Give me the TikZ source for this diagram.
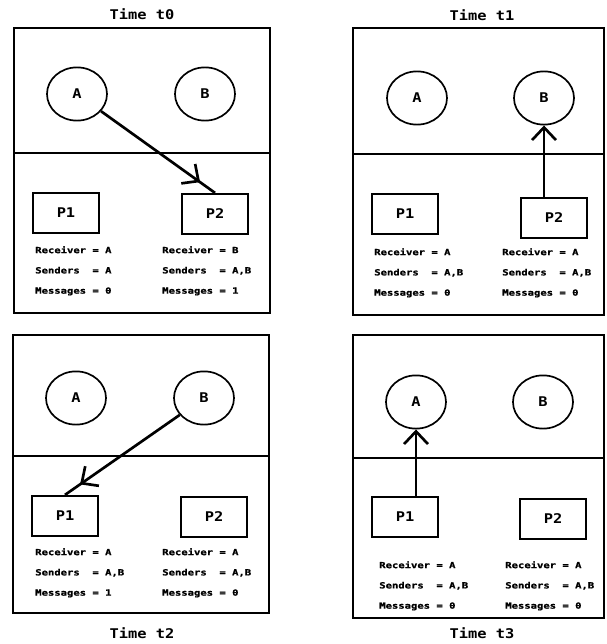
\documentclass[tikz,border=0pt]{standalone}
\usepackage{fontspec}
\usepackage{tikz}
\usetikzlibrary{shapes.geometric, arrows.meta, decorations.markings}

\newfontfamily\monofont[FakeStretch=1.15]{DejaVu Sans Mono}
\newfontfamily\widemono[FakeStretch=1.25, FakeBold=1.2]{DejaVu Sans Mono}
\newcommand{\namefont}{\monofont\bfseries\fontsize{9.5}{11}\selectfont}
\newcommand{\infofont}{\widemono\bfseries\fontsize{6}{14.4}\selectfont}

\begin{document}
\begin{tikzpicture}[
            x=0.025cm, y=-0.025cm,
            proc/.style={ellipse, draw, line width=1.2pt, minimum width=1.5cm, minimum height=1.33cm, font=\namefont},
            queue/.style={rectangle, draw, line width=1.6pt, minimum width=1.65cm, minimum height=1cm, font=\namefont},
            info/.style={anchor=north west, align=left, inner sep=0pt, font=\infofont},
            title/.style={font=\namefont},
            frame/.style={line width=1.4pt},
            split/.style={line width=1.1pt},
            msg/.style={line width=1.9pt, -{Straight Barb[length=9pt, width=17pt]}},
            sendmsg/.style={line width=1.9pt, postaction={decorate},
                decoration={markings, mark=at position 0.87 with {\arrow{Straight Barb[length=9pt, width=17pt]}}}}
        ]
        \useasboundingbox (0,0) rectangle (606,644);

        % Time t0
        \node[title] (title_t0) at (142,14) {Time t0};
        \draw[frame] (14,28) rectangle (270,313);
        \draw[split] (14,153) -- (270,153);
        \node[proc] (a_t0) at (77,94) {A};
        \node[proc] (b_t0) at (205,94) {B};
        \node[queue] (p1_t0) at (66,213) {P1};
        \node[queue] (p2_t0) at (215,214) {P2};
        \node[info] (p1_t0_info) at (35,246) {Receiver = A\\Senders\ \ = A\\Messages = 0};
        \node[info] (p2_t0_info) at (162,246) {Receiver = B\\Senders\ \ = A,B\\Messages = 1};
        \draw[sendmsg] (a_t0) -- (p2_t0.north);

        % Time t1
        \node[title] (title_t1) at (482,15) {Time t1};
        \draw[frame] (353,28) rectangle (604,315);
        \draw[split] (353,154) -- (604,154);
        \node[proc] (a_t1) at (417,98) {A};
        \node[proc] (b_t1) at (544,98) {B};
        \node[queue] (p1_t1) at (405,214) {P1};
        \node[queue] (p2_t1) at (554,218) {P2};
        \node[info] (p1_t1_info) at (374,248) {Receiver = A\\Senders\ \ = A,B\\Messages = 0};
        \node[info] (p2_t1_info) at (502,248) {Receiver = A\\Senders\ \ = A,B\\Messages = 0};
        \draw[msg] (p2_t1.north -| b_t1) -- (b_t1.south);

        % Time t2
        \draw[frame] (13,335) rectangle (269,613);
        \draw[split] (13,456) -- (269,456);
        \node[proc] (a_t2) at (76,398) {A};
        \node[proc] (b_t2) at (204,398) {B};
        \node[queue] (p1_t2) at (65,516) {P1};
        \node[queue] (p2_t2) at (214,517) {P2};
        \node[info] (p1_t2_info) at (35,548) {Receiver = A\\Senders\ \ = A,B\\Messages = 1};
        \node[info] (p2_t2_info) at (162,548) {Receiver = A\\Senders\ \ = A,B\\Messages = 0};
        \draw[sendmsg] (b_t2) -- (p1_t2.north);
        \node[title] (title_t2) at (142,633) {Time t2};

        % Time t3
        \draw[frame] (353,335) rectangle (604,618);
        \draw[split] (353,458) -- (604,458);
        \node[proc] (a_t3) at (416,402) {A};
        \node[proc] (b_t3) at (543,402) {B};
        \node[queue] (p1_t3) at (405,517) {P1};
        \node[queue] (p2_t3) at (553,519) {P2};
        \node[info] (p1_t3_info) at (379,561) {Receiver = A\\Senders\ \ = A,B\\Messages = 0};
        \node[info] (p2_t3_info) at (505,561) {Receiver = A\\Senders\ \ = A,B\\Messages = 0};
        \draw[msg] (p1_t3.north -| a_t3) -- (a_t3.south);
        \node[title] (title_t3) at (482,633) {Time t3};

    \end{tikzpicture}
\end{document}
